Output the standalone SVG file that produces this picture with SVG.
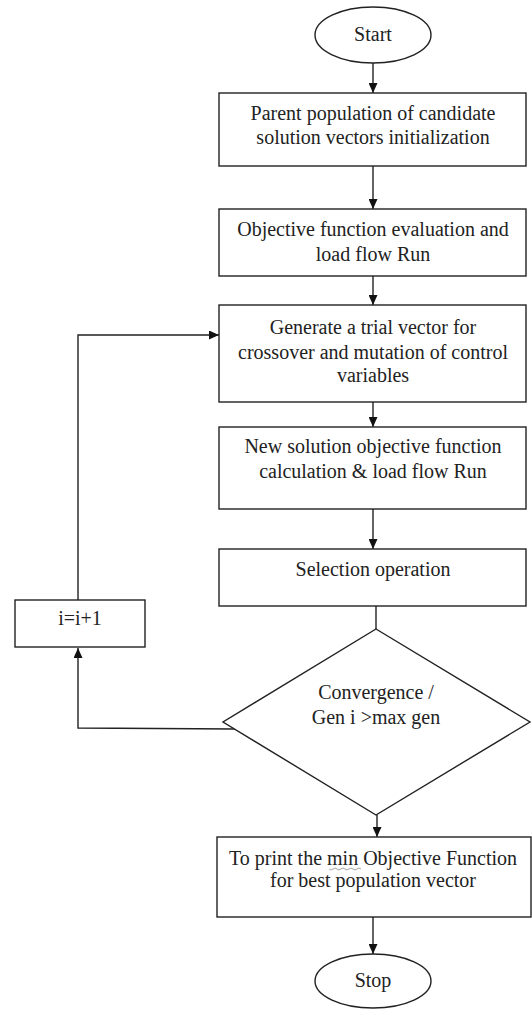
<svg xmlns="http://www.w3.org/2000/svg" width="532" height="1011" viewBox="0 0 532 1011">
  <style>
    .shape { fill: #ffffff; stroke: #222222; stroke-width: 1.4; }
    .line { fill: none; stroke: #222222; stroke-width: 1.4; }
    .t { font-family: "Liberation Serif", "Times New Roman", serif; font-size: 20px; fill: #222222; text-anchor: middle; }
  </style>
  <defs>
    <marker id="arrow" viewBox="0 0 10 9" refX="10" refY="4.5" markerWidth="10" markerHeight="9" markerUnits="userSpaceOnUse" orient="auto">
      <path d="M0,0 L10,4.5 L0,9 Z" fill="#111111"/>
    </marker>
  </defs>
  <rect width="532" height="1011" fill="#ffffff"/>

  <g id="connectors">
    <line class="line" x1="373" y1="63" x2="373" y2="93" marker-end="url(#arrow)"/>
    <line class="line" x1="373" y1="166" x2="373" y2="209" marker-end="url(#arrow)"/>
    <line class="line" x1="373" y1="276" x2="373" y2="305" marker-end="url(#arrow)"/>
    <line class="line" x1="373" y1="388" x2="373" y2="427" marker-end="url(#arrow)"/>
    <line class="line" x1="373" y1="509" x2="373" y2="549" marker-end="url(#arrow)"/>
    <line class="line" x1="376" y1="606" x2="376" y2="629"/>
    <line class="line" x1="377" y1="815" x2="377" y2="837" marker-end="url(#arrow)"/>
    <line class="line" x1="373" y1="917" x2="373" y2="954" marker-end="url(#arrow)"/>
    <polyline class="line" points="235,729 78,728 78,648" marker-end="url(#arrow)"/>
    <polyline class="line" points="78,600 78,335 219,335" marker-end="url(#arrow)"/>
  </g>

  <g id="start">
    <ellipse class="shape" cx="373" cy="35" rx="58" ry="28"/>
    <text class="t" x="373" y="41">Start</text>
  </g>
  <g id="init">
    <rect class="shape" x="219" y="93" width="307" height="73"/>
    <text class="t" x="373" y="120">Parent population of candidate</text>
    <text class="t" x="373" y="144">solution vectors initialization</text>
  </g>
  <g id="evaluate">
    <rect class="shape" x="219" y="209" width="307" height="67"/>
    <text class="t" x="373" y="236">Objective function evaluation and</text>
    <text class="t" x="373" y="261">load flow Run</text>
  </g>
  <g id="trial">
    <rect class="shape" x="219" y="305" width="307" height="97"/>
    <text class="t" x="373" y="334">Generate a trial vector for</text>
    <text class="t" x="373" y="359">crossover and mutation of control</text>
    <text class="t" x="373" y="382">variables</text>
  </g>
  <g id="newsolution">
    <rect class="shape" x="219" y="427" width="307" height="82"/>
    <text class="t" x="373" y="453">New solution objective function</text>
    <text class="t" x="373" y="478">calculation &amp; load flow Run</text>
  </g>
  <g id="selection">
    <rect class="shape" x="219" y="549" width="307" height="57"/>
    <text class="t" x="373" y="576">Selection operation</text>
  </g>
  <g id="increment">
    <rect class="shape" x="15" y="600" width="130" height="47"/>
    <text class="t" x="80" y="625">i=i+1</text>
  </g>
  <g id="convergence">
    <polygon class="shape" points="376,629 530,722 376,815 223,722"/>
    <text class="t" x="376" y="699">Convergence /</text>
    <text class="t" x="376" y="724">Gen i &gt;max gen</text>
  </g>
  <g id="print">
    <rect class="shape" x="217" y="837" width="314" height="80"/>
    <text class="t" x="373" y="865">To print the min Objective Function</text>
    <path d="M329,869 q2,2 4,0 t4,0 t4,0 t4,0 t4,0 t4,0 t4,0 t4,0" fill="none" stroke="#8a8a8a" stroke-width="0.8"/>
    <text class="t" x="373" y="887">for best population vector</text>
  </g>
  <g id="stop">
    <ellipse class="shape" cx="373" cy="981" rx="58" ry="27"/>
    <text class="t" x="373" y="987">Stop</text>
  </g>
</svg>
